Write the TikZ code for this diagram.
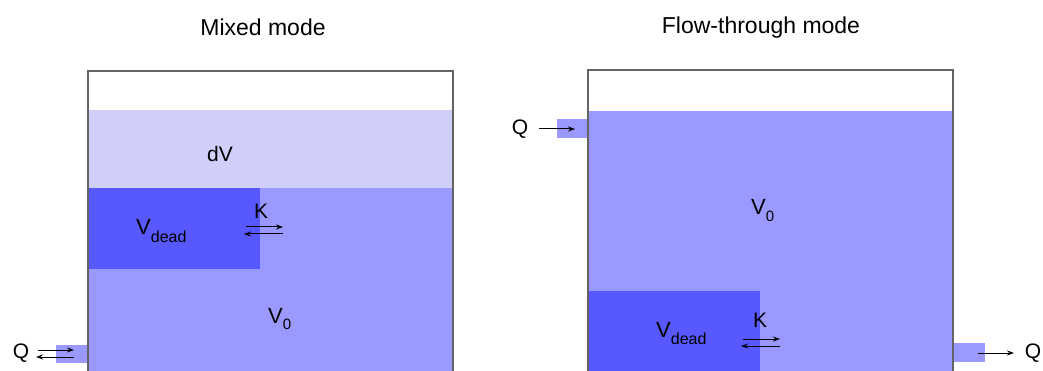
\documentclass[tikz,border=0pt]{standalone}
\usepackage{fontspec}
\setmainfont{Liberation Sans}
\usetikzlibrary{arrows.meta}
\definecolor{dvcol}{RGB}{207,207,250}
\definecolor{vzero}{RGB}{153,153,255}
\definecolor{vdead}{RGB}{88,88,255}
\definecolor{wall}{RGB}{100,100,100}
\tikzset{
  wallline/.style={draw=wall,line width=1.5pt},
  title/.style={font=\fontsize{23}{26}\selectfont,inner sep=0pt},
  lbl/.style={font=\fontsize{21}{24}\selectfont,inner sep=0pt},
  flow/.style={-{Stealth[length=7pt,width=5pt]},line width=1pt,black},
}
\newcommand{\Vdead}{V\raisebox{-0.35em}{\fontsize{16}{16}\selectfont dead}}
\newcommand{\Vzero}{V\raisebox{-0.3em}{\fontsize{15}{15}\selectfont 0}}
\begin{document}
\begin{tikzpicture}[x=1pt,y=-1pt]
\useasboundingbox (0,0) rectangle (1043,371);
% ---------- Mixed mode ----------
\fill[dvcol] (88,110) rectangle (453,188);
\fill[vzero] (88,188) rectangle (453,371);
\fill[vdead] (88,188) rectangle (260,269);
\fill[vzero] (56,345) rectangle (88,363);
\draw[wallline] (88,371) -- (88,71) -- (453,71) -- (453,371);
\node[title] (t1) at (263,27) {Mixed mode};
\node[lbl] (dv) at (220,154) {dV};
\node[lbl,font=\fontsize{22}{24}\selectfont,anchor=base west] (vd1) at (136,235) {\Vdead};
\node[lbl] (k1) at (261,211) {K};
\node[lbl,font=\fontsize{22}{24}\selectfont,anchor=base west] (v01) at (268,323) {\Vzero};
\node[lbl] (q1) at (21,353) {Q};
\coordinate (k1a) at (246,227); \coordinate (k1b) at (283,227);
\coordinate (k1c) at (283,234); \coordinate (k1d) at (244,234);
\draw[flow] (k1a) -- (k1b);
\draw[flow] (k1c) -- (k1d);
\coordinate (q1a) at (38,350); \coordinate (q1b) at (74,350);
\coordinate (q1c) at (74,357); \coordinate (q1d) at (36,357);
\draw[flow] (q1a) -- (q1b);
\draw[flow] (q1c) -- (q1d);
% ---------- Flow-through mode ----------
\fill[vzero] (588,111) rectangle (953,371);
\fill[vdead] (588,291) rectangle (760,371);
\fill[vzero] (557,119) rectangle (588,138);
\fill[vzero] (953,343) rectangle (985,362);
\draw[wallline] (588,371) -- (588,70) -- (953,70) -- (953,371);
\node[title] (t2) at (761,28) {Flow-through mode};
\node[lbl,font=\fontsize{22}{24}\selectfont,anchor=base west] (v02) at (751,215) {\Vzero};
\node[lbl,font=\fontsize{22}{24}\selectfont,anchor=base west] (vd2) at (656,337) {\Vdead};
\node[lbl] (k2) at (760,320) {K};
\node[lbl] (q2) at (520,129) {Q};
\node[lbl] (q3) at (1033,353) {Q};
\coordinate (k2a) at (743,339); \coordinate (k2b) at (780,339);
\coordinate (k2c) at (780,346); \coordinate (k2d) at (741,346);
\draw[flow] (k2a) -- (k2b);
\draw[flow] (k2c) -- (k2d);
\coordinate (q2a) at (539,129); \coordinate (q2b) at (575,129);
\draw[flow] (q2a) -- (q2b);
\coordinate (q3a) at (978,353); \coordinate (q3b) at (1014,353);
\draw[flow] (q3a) -- (q3b);
\end{tikzpicture}
\end{document}
